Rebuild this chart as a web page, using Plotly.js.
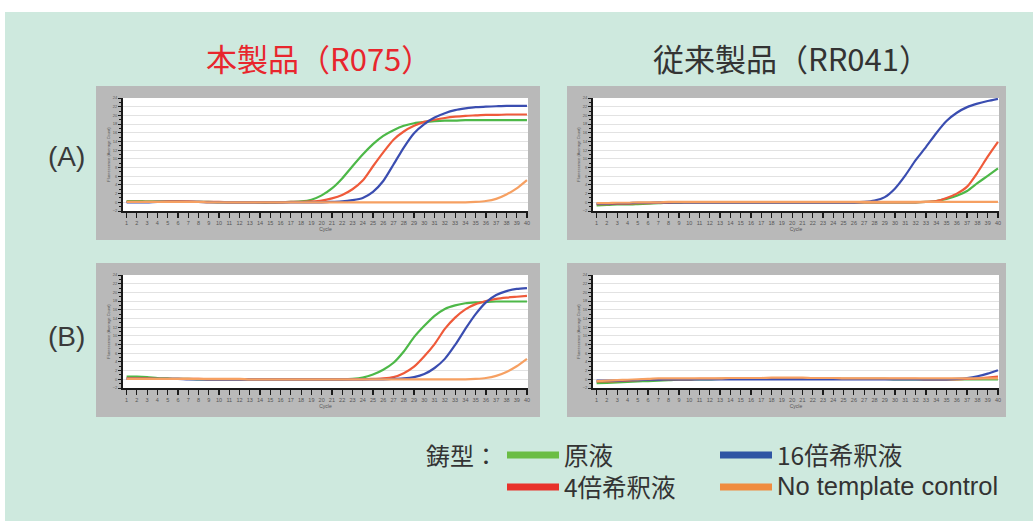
<!DOCTYPE html>
<html><head><meta charset="utf-8">
<script src="https://cdn.plot.ly/plotly-3.0.1.min.js"></script>
<style>html,body{margin:0;padding:0;background:#fff;}#chart{width:1033px;height:521px;}</style>
</head><body><div id="chart"></div>
<script>
// ---- DATA (fluorescence vs cycle) ----
const cycles = [1,2,3,4,5,6,7,8,9,10,11,12,13,14,15,16,17,18,19,20,21,22,23,24,25,26,27,28,29,30,31,32,33,34,35,36,37,38,39,40];
const seriesNames = ['原液', '4倍希釈液', '16倍希釈液', 'No template control'];
const panelTitles = ['本製品（R075）', '従来製品（RR041）'];
const rowLabels = ['(A)', '(B)'];
const legendTitle = '鋳型：';
const xTitle = 'Cycle';
const yTitle = 'Fluorescence (Average Count)';

// (A) 本製品
const greenAL  = [0.3,0.3,0.2,0.2,0.2,0.2,0.1,0.1,0.1,0.0,0.0,0.0,0.0,-0.1,-0.1,0.0,0.1,0.2,0.6,1.6,3.2,5.5,8.3,11.0,13.4,15.3,16.6,17.6,18.2,18.5,18.7,18.8,18.8,18.9,18.9,18.9,18.9,18.9,18.9,18.9];
const redAL    = [0.1,0.1,0.1,0.1,0.2,0.2,0.2,0.1,0.1,0.1,0.0,0.0,0.0,0.0,0.0,0.0,0.1,0.1,0.2,0.4,0.9,1.7,3.0,5.0,8.3,11.5,14.4,16.3,17.6,18.5,19.0,19.4,19.7,19.9,20.0,20.1,20.1,20.2,20.2,20.2];
const blueAL   = [0.0,0.0,0.0,0.1,0.1,0.1,0.1,0.1,0.0,0.0,0.0,0.0,0.0,0.0,0.0,0.0,0.0,0.0,0.0,0.0,0.1,0.2,0.5,1.0,2.4,4.9,8.7,12.6,15.9,18.0,19.5,20.5,21.2,21.6,21.9,22.0,22.1,22.2,22.2,22.2];
const orangeAL = [0.1,0.1,0.1,0.1,0.1,0.1,0.1,0.1,0.0,0.0,0.0,0.0,0.0,0.0,0.0,0.0,0.0,0.0,0.0,0.0,0.0,0.0,0.0,0.0,0.0,0.0,0.0,0.0,0.0,0.0,0.0,0.0,0.0,0.0,0.1,0.3,0.8,1.8,3.2,5.1];
// (A) 従来製品
const greenAR  = [-0.7,-0.6,-0.5,-0.5,-0.4,-0.3,-0.2,-0.1,-0.1,0.0,0.0,0.0,0.0,0.0,0.0,0.0,0.0,0.0,0.0,0.0,0.0,0.0,0.0,0.0,0.0,0.0,0.0,0.0,0.0,0.0,0.0,0.0,0.1,0.3,0.8,1.5,2.6,4.4,6.1,7.8];
const redAR    = [-0.4,-0.4,-0.3,-0.3,-0.2,-0.2,-0.1,-0.1,0.0,0.0,0.0,0.0,0.0,0.0,0.0,0.0,0.0,0.0,0.0,0.0,0.0,0.0,0.0,0.0,0.0,0.0,0.0,0.0,0.0,0.0,0.0,0.0,0.1,0.3,1.0,2.0,3.6,6.8,10.5,13.9];
const blueAR   = [-0.3,-0.3,-0.2,-0.2,-0.1,-0.1,0.0,0.0,0.0,0.0,0.0,0.0,0.0,0.0,0.0,0.0,0.0,0.0,0.0,0.0,0.0,0.0,0.0,0.0,0.0,0.0,0.1,0.4,1.2,3.2,6.2,9.7,12.7,15.9,18.7,20.6,21.9,22.7,23.3,23.8];
const orangeAR = [-0.2,-0.2,-0.1,-0.1,0.0,0.0,0.0,0.1,0.1,0.1,0.1,0.1,0.1,0.1,0.1,0.1,0.1,0.1,0.1,0.1,0.1,0.1,0.1,0.1,0.1,0.1,0.1,0.1,0.1,0.1,0.1,0.1,0.1,0.1,0.1,0.1,0.1,0.1,0.1,0.1];
// (B) 本製品
const greenBL  = [0.6,0.6,0.5,0.3,0.2,0.1,0.1,0.0,0.0,0.0,0.0,0.0,0.0,0.0,0.0,0.0,0.0,0.0,0.0,0.0,0.0,0.0,0.1,0.4,1.1,2.2,3.8,6.4,9.7,12.3,14.6,16.2,17.0,17.5,17.7,17.8,17.9,17.9,17.9,17.9];
const redBL    = [0.2,0.2,0.2,0.1,0.1,0.1,0.1,0.1,0.0,0.0,0.0,0.0,0.0,0.0,0.0,0.0,0.0,0.0,0.0,0.0,0.0,0.0,0.0,0.0,0.1,0.2,0.5,1.4,2.9,5.3,8.1,11.6,14.2,16.1,17.3,18.0,18.5,18.8,19.0,19.2];
const blueBL   = [0.1,0.1,0.1,0.1,0.1,0.1,0.0,0.0,0.0,0.0,0.0,0.0,0.0,0.0,0.0,0.0,0.0,0.0,0.0,0.0,0.0,0.0,0.0,0.0,0.0,0.0,0.1,0.2,0.5,1.2,2.6,4.7,7.9,11.6,15.0,17.7,19.4,20.3,20.8,21.0];
const orangeBL = [0.1,0.1,0.1,0.1,0.1,0.1,0.1,0.1,0.1,0.1,0.1,0.1,0.0,0.0,0.0,0.0,0.0,0.0,0.0,0.0,0.0,0.0,0.0,0.0,0.0,0.0,0.0,0.0,0.0,0.0,0.0,0.0,0.0,0.0,0.1,0.3,0.8,1.7,3.0,4.7];
// (B) 従来製品
const greenBR  = [-0.9,-0.8,-0.7,-0.6,-0.5,-0.4,-0.3,-0.2,-0.1,-0.1,0.0,0.0,0.1,0.1,0.1,0.1,0.1,0.2,0.2,0.2,0.2,0.1,0.1,0.1,0.1,0.1,0.1,0.1,0.1,0.0,0.0,0.0,0.0,0.0,0.0,0.0,0.0,0.0,0.0,0.0];
const redBR    = [-0.5,-0.5,-0.4,-0.3,-0.2,-0.1,0.0,0.0,0.0,0.0,0.1,0.1,0.1,0.1,0.1,0.2,0.2,0.2,0.3,0.3,0.3,0.2,0.2,0.2,0.1,0.1,0.1,0.1,0.1,0.1,0.1,0.1,0.0,0.0,0.0,0.0,0.1,0.2,0.4,0.6];
const blueBR   = [-0.3,-0.3,-0.3,-0.2,-0.2,-0.1,-0.1,0.0,0.0,0.0,0.0,0.0,0.0,0.0,0.0,0.0,0.0,0.0,0.0,0.0,0.0,0.0,0.0,0.0,0.0,0.0,0.0,0.0,0.0,0.0,0.0,0.0,0.0,0.0,0.0,0.1,0.3,0.7,1.3,2.1];
const orangeBR = [-0.4,-0.3,-0.2,-0.1,0.0,0.1,0.2,0.2,0.2,0.2,0.2,0.2,0.2,0.3,0.3,0.3,0.3,0.4,0.4,0.4,0.4,0.3,0.3,0.3,0.2,0.2,0.2,0.2,0.2,0.2,0.2,0.2,0.2,0.2,0.2,0.2,0.2,0.2,0.2,0.2];

// ---- STYLE / LAYOUT ----
const W = 1033, H = 521;
const px = x => x / W, py = y => 1 - y / H;
const lineColors = ['#4db848', '#ef5a3a', '#3a4db0', '#f6a062'];
const legendColors = ['#6bbd45', '#e8322b', '#2f55a4', '#f08c3f'];

const panels = [
  {ax: '', data: [greenAL, redAL, blueAL, orangeAL], xd: [123, 528], yd: [98, 211], box: [96, 86, 540, 240]},
  {ax: '2', data: [greenAR, redAR, blueAR, orangeAR], xd: [593, 999], yd: [98, 211], box: [567, 86, 1006, 240]},
  {ax: '3', data: [greenBL, redBL, blueBL, orangeBL], xd: [123, 528], yd: [275, 388], box: [96, 263, 540, 417]},
  {ax: '4', data: [greenBR, redBR, blueBR, orangeBR], xd: [593, 999], yd: [275, 388], box: [567, 263, 1006, 417]}
];

const traces = [];
const layout = {
  width: W, height: H,
  margin: {l: 0, r: 0, t: 0, b: 0},
  paper_bgcolor: '#ffffff',
  plot_bgcolor: 'rgba(0,0,0,0)',
  showlegend: false,
  shapes: [
    {type: 'rect', xref: 'paper', yref: 'paper', x0: px(5), x1: 1, y0: 0, y1: py(12), fillcolor: '#cee9de', line: {width: 0}, layer: 'below'}
  ],
  annotations: []
};

panels.forEach(p => {
  p.data.forEach((ys, i) => {
    traces.push({
      x: cycles, y: ys, type: 'scatter', mode: 'lines', name: seriesNames[i],
      xaxis: 'x' + p.ax, yaxis: 'y' + p.ax,
      line: {color: lineColors[i], width: 2.2, shape: 'spline', smoothing: 0.6},
      hoverinfo: 'skip'
    });
  });
  const b = p.box;
  layout.shapes.push({type: 'rect', xref: 'paper', yref: 'paper', x0: px(b[0]), x1: px(b[2]), y0: py(b[3]), y1: py(b[1]), fillcolor: '#b9b9b9', line: {width: 0}, layer: 'below'});
  layout.shapes.push({type: 'rect', xref: 'paper', yref: 'paper', x0: px(p.xd[0]), x1: px(p.xd[1]), y0: py(p.yd[1]), y1: py(p.yd[0]), fillcolor: '#ffffff', line: {width: 0}, layer: 'below'});
  layout['xaxis' + p.ax] = {
    domain: [px(p.xd[0]), px(p.xd[1])], anchor: 'y' + p.ax,
    range: [0.65, 40.1], dtick: 1, tick0: 1,
    showline: true, linecolor: '#1a1a1a', linewidth: 2,
    ticks: 'outside', ticklen: 5, tickwidth: 1.2, tickcolor: '#1a1a1a',
    showgrid: false, zeroline: false,
    tickfont: {size: 5.5, color: '#555', family: 'Liberation Sans'},
    title: {text: xTitle, font: {size: 5, color: '#555', family: 'Liberation Sans'}, standoff: 2},
    fixedrange: true
  };
  layout['yaxis' + p.ax] = {
    domain: [py(p.yd[1]), py(p.yd[0])], anchor: 'x' + p.ax,
    range: [-2, 24], dtick: 2, tick0: 0,
    showline: true, linecolor: '#1a1a1a', linewidth: 2,
    ticks: 'outside', ticklen: 3, tickwidth: 1, tickcolor: '#1a1a1a',
    minor: {dtick: 1, ticks: 'outside', ticklen: 2, tickcolor: '#1a1a1a', showgrid: false},
    showgrid: true, gridcolor: '#e2e2e2', gridwidth: 1, zeroline: false,
    tickfont: {size: 4, color: '#555', family: 'Liberation Sans'},
    title: {text: yTitle, font: {size: 4, color: '#555', family: 'Liberation Sans'}, standoff: 2},
    fixedrange: true
  };
});

// Panel titles
const titleFont = 'Noto Sans CJK JP';
layout.annotations.push({text: panelTitles[0], x: px(319), y: py(58), xref: 'paper', yref: 'paper', showarrow: false, xanchor: 'center', yanchor: 'middle', font: {size: 31, color: '#e8262d', family: titleFont}});
layout.annotations.push({text: panelTitles[1], x: px(791), y: py(58), xref: 'paper', yref: 'paper', showarrow: false, xanchor: 'center', yanchor: 'middle', font: {size: 31, color: '#333333', family: titleFont}});
// Row labels
layout.annotations.push({text: rowLabels[0], x: px(66), y: py(157), xref: 'paper', yref: 'paper', showarrow: false, xanchor: 'center', yanchor: 'middle', font: {size: 28, color: '#3a3a3a', family: 'Liberation Sans'}});
layout.annotations.push({text: rowLabels[1], x: px(66), y: py(336), xref: 'paper', yref: 'paper', showarrow: false, xanchor: 'center', yanchor: 'middle', font: {size: 28, color: '#3a3a3a', family: 'Liberation Sans'}});

// Custom legend
layout.annotations.push({text: legendTitle, x: px(424), y: py(454), xref: 'paper', yref: 'paper', showarrow: false, xanchor: 'left', yanchor: 'middle', font: {size: 24, color: '#333', family: titleFont}});
const legPos = [[507, 455], [507, 487], [720, 455], [720, 487]];
legPos.forEach((lp, i) => {
  layout.shapes.push({type: 'line', xref: 'paper', yref: 'paper', x0: px(lp[0]), x1: px(lp[0] + 52), y0: py(lp[1]), y1: py(lp[1]), line: {color: legendColors[i], width: 7}});
  layout.annotations.push({text: seriesNames[i], x: px(lp[0] + 55), y: py(lp[1] - 1), xref: 'paper', yref: 'paper', showarrow: false, xanchor: 'left', yanchor: 'middle', font: {size: i === 3 ? 25.5 : 24.5, color: '#333', family: i === 3 ? 'Liberation Sans' : titleFont}});
});

Plotly.newPlot('chart', traces, layout, {staticPlot: true, displayModeBar: false});
</script></body></html>
